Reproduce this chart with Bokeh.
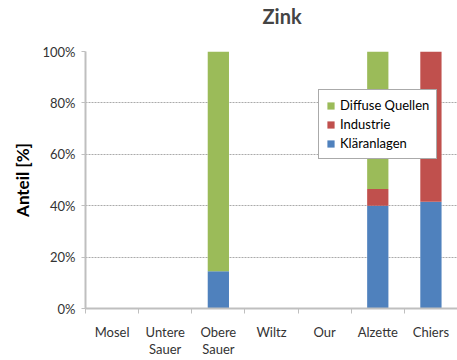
from bokeh.plotting import figure
from bokeh.models import (Range1d, FixedTicker, NumeralTickFormatter, Legend, LegendItem,
                          ColumnDataSource)
from bokeh.embed import file_html
from bokeh.resources import INLINE

categories = ["Mosel", "Untere\nSauer", "Obere\nSauer", "Wiltz", "Our", "Alzette", "Chiers"]
klaeranlagen = [0.0, 0.0, 0.145, 0.0, 0.0, 0.40, 0.415]
industrie = [0.0, 0.0, 0.0, 0.0, 0.0, 0.065, 0.585]
diffuse = [0.0, 0.0, 0.855, 0.0, 0.0, 0.535, 0.0]
series_names = ["Kläranlagen", "Industrie", "Diffuse Quellen"]
colors = ["#4F81BD", "#C0504D", "#9BBB59"]
y_ticks = [0, 0.2, 0.4, 0.6, 0.8, 1.0]
title_text = "Zink"

FONT = "Lato"
n = len(categories)
xs = [i + 0.5 for i in range(n)]
src = ColumnDataSource(dict(x=xs, k=klaeranlagen, i=industrie, d=diffuse))

p = figure(width=457, height=360, output_backend="svg", toolbar_location=None,
           x_range=Range1d(0, n), y_range=Range1d(0, 1),
           min_border_left=85, min_border_right=0, min_border_top=51, min_border_bottom=10,
           title=title_text + "\n ")
p.title.text_font = FONT
p.title.text_font_size = "20px"
p.title.text_font_style = "bold"
p.title.align = "left"
p.title.offset = 177
p.title.standoff = 0
p.title.text_line_height = 1.0
p.outline_line_color = None

r = p.vbar_stack(["k", "i", "d"], x="x", width=0.4, source=src, color=colors, line_color=None)

# axes
p.xaxis.ticker = FixedTicker(ticks=xs, minor_ticks=list(range(n + 1)))
p.xaxis.major_label_overrides = {x: c for x, c in zip(xs, categories)}
p.xaxis.major_tick_line_color = None
p.xaxis.minor_tick_line_color = "#BFBFBF"
p.xaxis.minor_tick_out = 5
p.xaxis.minor_tick_in = 0
p.xaxis.axis_line_color = "#BFBFBF"
p.xaxis.axis_line_width = 2
p.xaxis.major_label_text_font = FONT
p.xaxis.major_label_text_font_size = "13px"
p.xaxis.major_label_text_color = "#333333"
p.xaxis.major_label_text_line_height = 1.1
p.xaxis.major_label_standoff = 9

p.yaxis.ticker = FixedTicker(ticks=y_ticks)
p.yaxis.formatter = NumeralTickFormatter(format="0%")
p.yaxis.minor_tick_line_color = None
p.yaxis.major_tick_line_color = "#BFBFBF"
p.yaxis.major_tick_out = 4
p.yaxis.major_tick_in = 0
p.yaxis.axis_line_color = "#BFBFBF"
p.yaxis.axis_line_width = 2
p.yaxis.major_label_text_font = FONT
p.yaxis.major_label_text_font_size = "13px"
p.yaxis.major_label_text_color = "#333333"
p.yaxis.major_label_standoff = 6
p.yaxis.axis_label = "Anteil [%]"
p.yaxis.axis_label_text_font = FONT
p.yaxis.axis_label_text_font_size = "17px"
p.yaxis.axis_label_text_font_style = "bold"
p.yaxis.axis_label_text_color = "#000000"
p.yaxis.axis_label_standoff = 6

p.xgrid.grid_line_color = None
p.ygrid.grid_line_color = "#AAAAAA"
p.ygrid.grid_line_dash = "2 1"
p.ygrid.grid_line_width = 1

legend = Legend(items=[LegendItem(label=series_names[2], renderers=[r[2]]),
                       LegendItem(label=series_names[1], renderers=[r[1]]),
                       LegendItem(label=series_names[0], renderers=[r[0]])],
                location=(233, 149))
legend.label_text_font = FONT
legend.label_text_font_size = "13px"
legend.label_text_color = "#000000"
legend.glyph_width = 9
legend.glyph_height = 9
legend.label_height = 16
legend.spacing = 3
legend.padding = 7
legend.margin = 0
legend.label_standoff = 5
legend.border_line_color = "#555555"
legend.border_line_width = 1
legend.background_fill_color = "white"
legend.background_fill_alpha = 1.0
p.add_layout(legend, "center")

open("out.html", "w").write(file_html(p, INLINE))
